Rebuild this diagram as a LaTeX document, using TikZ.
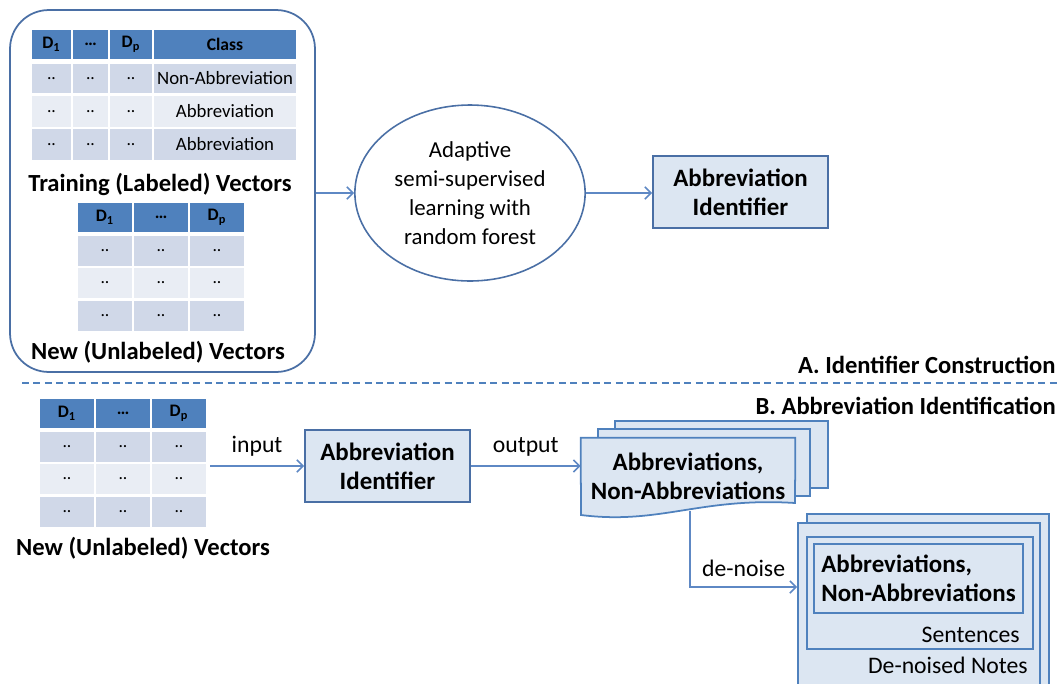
\documentclass[tikz,border=0pt]{standalone}
\usepackage{fontspec}
\setmainfont{Carlito}
\usetikzlibrary{shapes.geometric,arrows.meta,scopes}
\definecolor{hdblue}{HTML}{4F81BD}
\definecolor{rowdk}{HTML}{D0D8E8}
\definecolor{rowlt}{HTML}{E9EDF4}
\definecolor{paleblue}{HTML}{DCE6F2}
\definecolor{lineblue}{HTML}{4A6FA5}
\definecolor{wireblue}{HTML}{5E88C4}

\newcommand{\vtab}[3]{%
  \begin{scope}[shift={(#2,#3)}]
    \foreach \xa/\t [count=\i] in {0/D\textsubscript{1},56/\dots,112/D\textsubscript{p}}{
      \fill[hdblue] (\xa,0) rectangle ++(54,29);
      \node[hcell] (#1-h\i) at (\xa+27,14.5) {\t};
      \foreach \ya/\c [count=\j] in {33/rowdk,65/rowlt,98/rowdk}{
        \fill[\c] (\xa,\ya) rectangle ++(54,30);
        \node[dcell] (#1-\j-\i) at (\xa+27,\ya+15) {..};
      }
    }
  \end{scope}}

\begin{document}
\begin{tikzpicture}[x=0.02cm,y=-0.02cm,>={Straight Barb[length=3.5pt,width=7pt]},
    hcell/.style={inner sep=0pt,font=\fontsize{10}{12}\selectfont\bfseries},
    dcell/.style={inner sep=0pt,font=\fontsize{10}{12}\selectfont},
    lbl/.style={inner sep=0pt,font=\fontsize{14}{16}\selectfont\bfseries},
    txt/.style={font=\fontsize{13.5}{16}\selectfont},
    blk/.style={rectangle,draw=lineblue,fill=paleblue,line width=1pt,align=center,font=\fontsize{14.2}{16.5}\selectfont\bfseries},
    doc/.style={draw=hdblue,fill=paleblue,line width=1pt},
    wire/.style={draw=wireblue,line width=0.9pt,->}]
  \useasboundingbox (0,0) rectangle (1061,683);

  \node[draw=lineblue,line width=1pt,rounded corners=22pt,minimum width=6.1cm,minimum height=7.24cm] (vecs) at (162.5,191) {};

  \foreach \xa/\xb/\t [count=\i] in {32/71/D\textsubscript{1},73/108/\dots,110/152/D\textsubscript{p},154/296/Class}{
    \fill[hdblue] (\xa,30) rectangle (\xb,59);
    \node[hcell] (lab-h\i) at ({(\xa+\xb)/2},44.5) {\t};
  }
  \foreach \ya/\yb/\c/\k [count=\j] in {64/93/rowdk/Non-Abbreviation,96/127/rowlt/Abbreviation,129/160/rowdk/Abbreviation}{
    \foreach \xa/\xb [count=\i] in {32/71,73/108,110/152}{
      \fill[\c] (\xa,\ya) rectangle (\xb,\yb);
      \node[dcell] (lab-\j-\i) at ({(\xa+\xb)/2},{(\ya+\yb)/2}) {..};
    }
    \fill[\c] (154,\ya) rectangle (296,\yb);
    \node[dcell,font=\fontsize{10.7}{13}\selectfont] (lab-\j-4) at (225,{(\ya+\yb)/2}) {\k};
  }
  \node[lbl] (labname) at (160,184) {Training (Labeled) Vectors};

  \vtab{unl}{78}{203}
  \node[lbl] (unlname) at (158,352) {New (Unlabeled) Vectors};

  \node[ellipse,draw=lineblue,line width=0.9pt,minimum width=4.08cm,minimum height=3.52cm,align=center,
        font=\fontsize{13}{16.5}\selectfont] (rf) at (470,193) {Adaptive\\semi-supervised\\learning with\\random forest};
  \node[blk,minimum width=3.5cm,minimum height=1.44cm] (idA) at (740.5,192) {Abbreviation\\Identifier};

  {[wire]
  \draw (rf.west -| vecs.east) -- (rf.west);
  \draw (rf.east) -- (idA.west |- rf.east);
  }

  \node[lbl,anchor=east] (secA) at (1056,365) {A. Identifier Construction};
  \draw[hdblue,line width=0.9pt,dash pattern=on 4pt off 2.5pt] (22,383) -- (1061,383);
  \node[lbl,anchor=east] (secB) at (1056,406) {B. Abbreviation Identification};

  \vtab{new}{40}{399}
  \node[lbl] (newname) at (143,548) {New (Unlabeled) Vectors};
  \coordinate (in) at (210,466);

  \node[blk,minimum width=3.3cm,minimum height=1.44cm] (idB) at (387.5,466) {Abbreviation\\Identifier};

  \draw[doc] (615,421) rectangle (828,488);
  \draw[doc] (598,429) rectangle (810,496);
  \node[rectangle,minimum width=4.28cm,minimum height=1.3cm,inner sep=0pt] (outdoc) at (688,470.5) {};
  \draw[doc] (outdoc.north west) -- (outdoc.north east) -- (795,503)
    .. controls (700,497) and (660,525) .. (581,515) -- cycle;
  \node[inner sep=0pt,align=center,font=\fontsize{14.2}{16.5}\selectfont\bfseries] (outtxt) at (688,476) {Abbreviations,\\Non-Abbreviations};
  \coordinate (wv) at (690,511);

  \draw[doc] (807,514) rectangle (1049,690);
  \node[doc,rectangle,minimum width=4.84cm,minimum height=3.34cm] (notes) at (919,606.5) {};
  \node[doc,rectangle,minimum width=4.52cm,minimum height=2.24cm] (sent) at (920,593) {};
  \node[doc,rectangle,minimum width=4.18cm,minimum height=1.38cm,align=left,
        font=\fontsize{14.2}{16.5}\selectfont\bfseries] (abbr) at (918.5,578.5) {Abbreviations,\\Non-Abbreviations};
  \node[txt,anchor=east,inner sep=0pt] (sentname) at (1020,635) {Sentences};
  \node[txt,anchor=east,inner sep=0pt] (notesname) at (1028,665) {De-noised Notes};

  {[wire]
  \draw (in) -- node[txt,above=2pt] {input} (idB.west);
  \draw (idB.east) -- node[txt,above=2pt] {output} (idB.east -| outdoc.west);
  \draw (wv) |- node[txt,pos=0.75,above=2pt] {de-noise} (notes.west |- 0,587);
  }
\end{tikzpicture}
\end{document}
